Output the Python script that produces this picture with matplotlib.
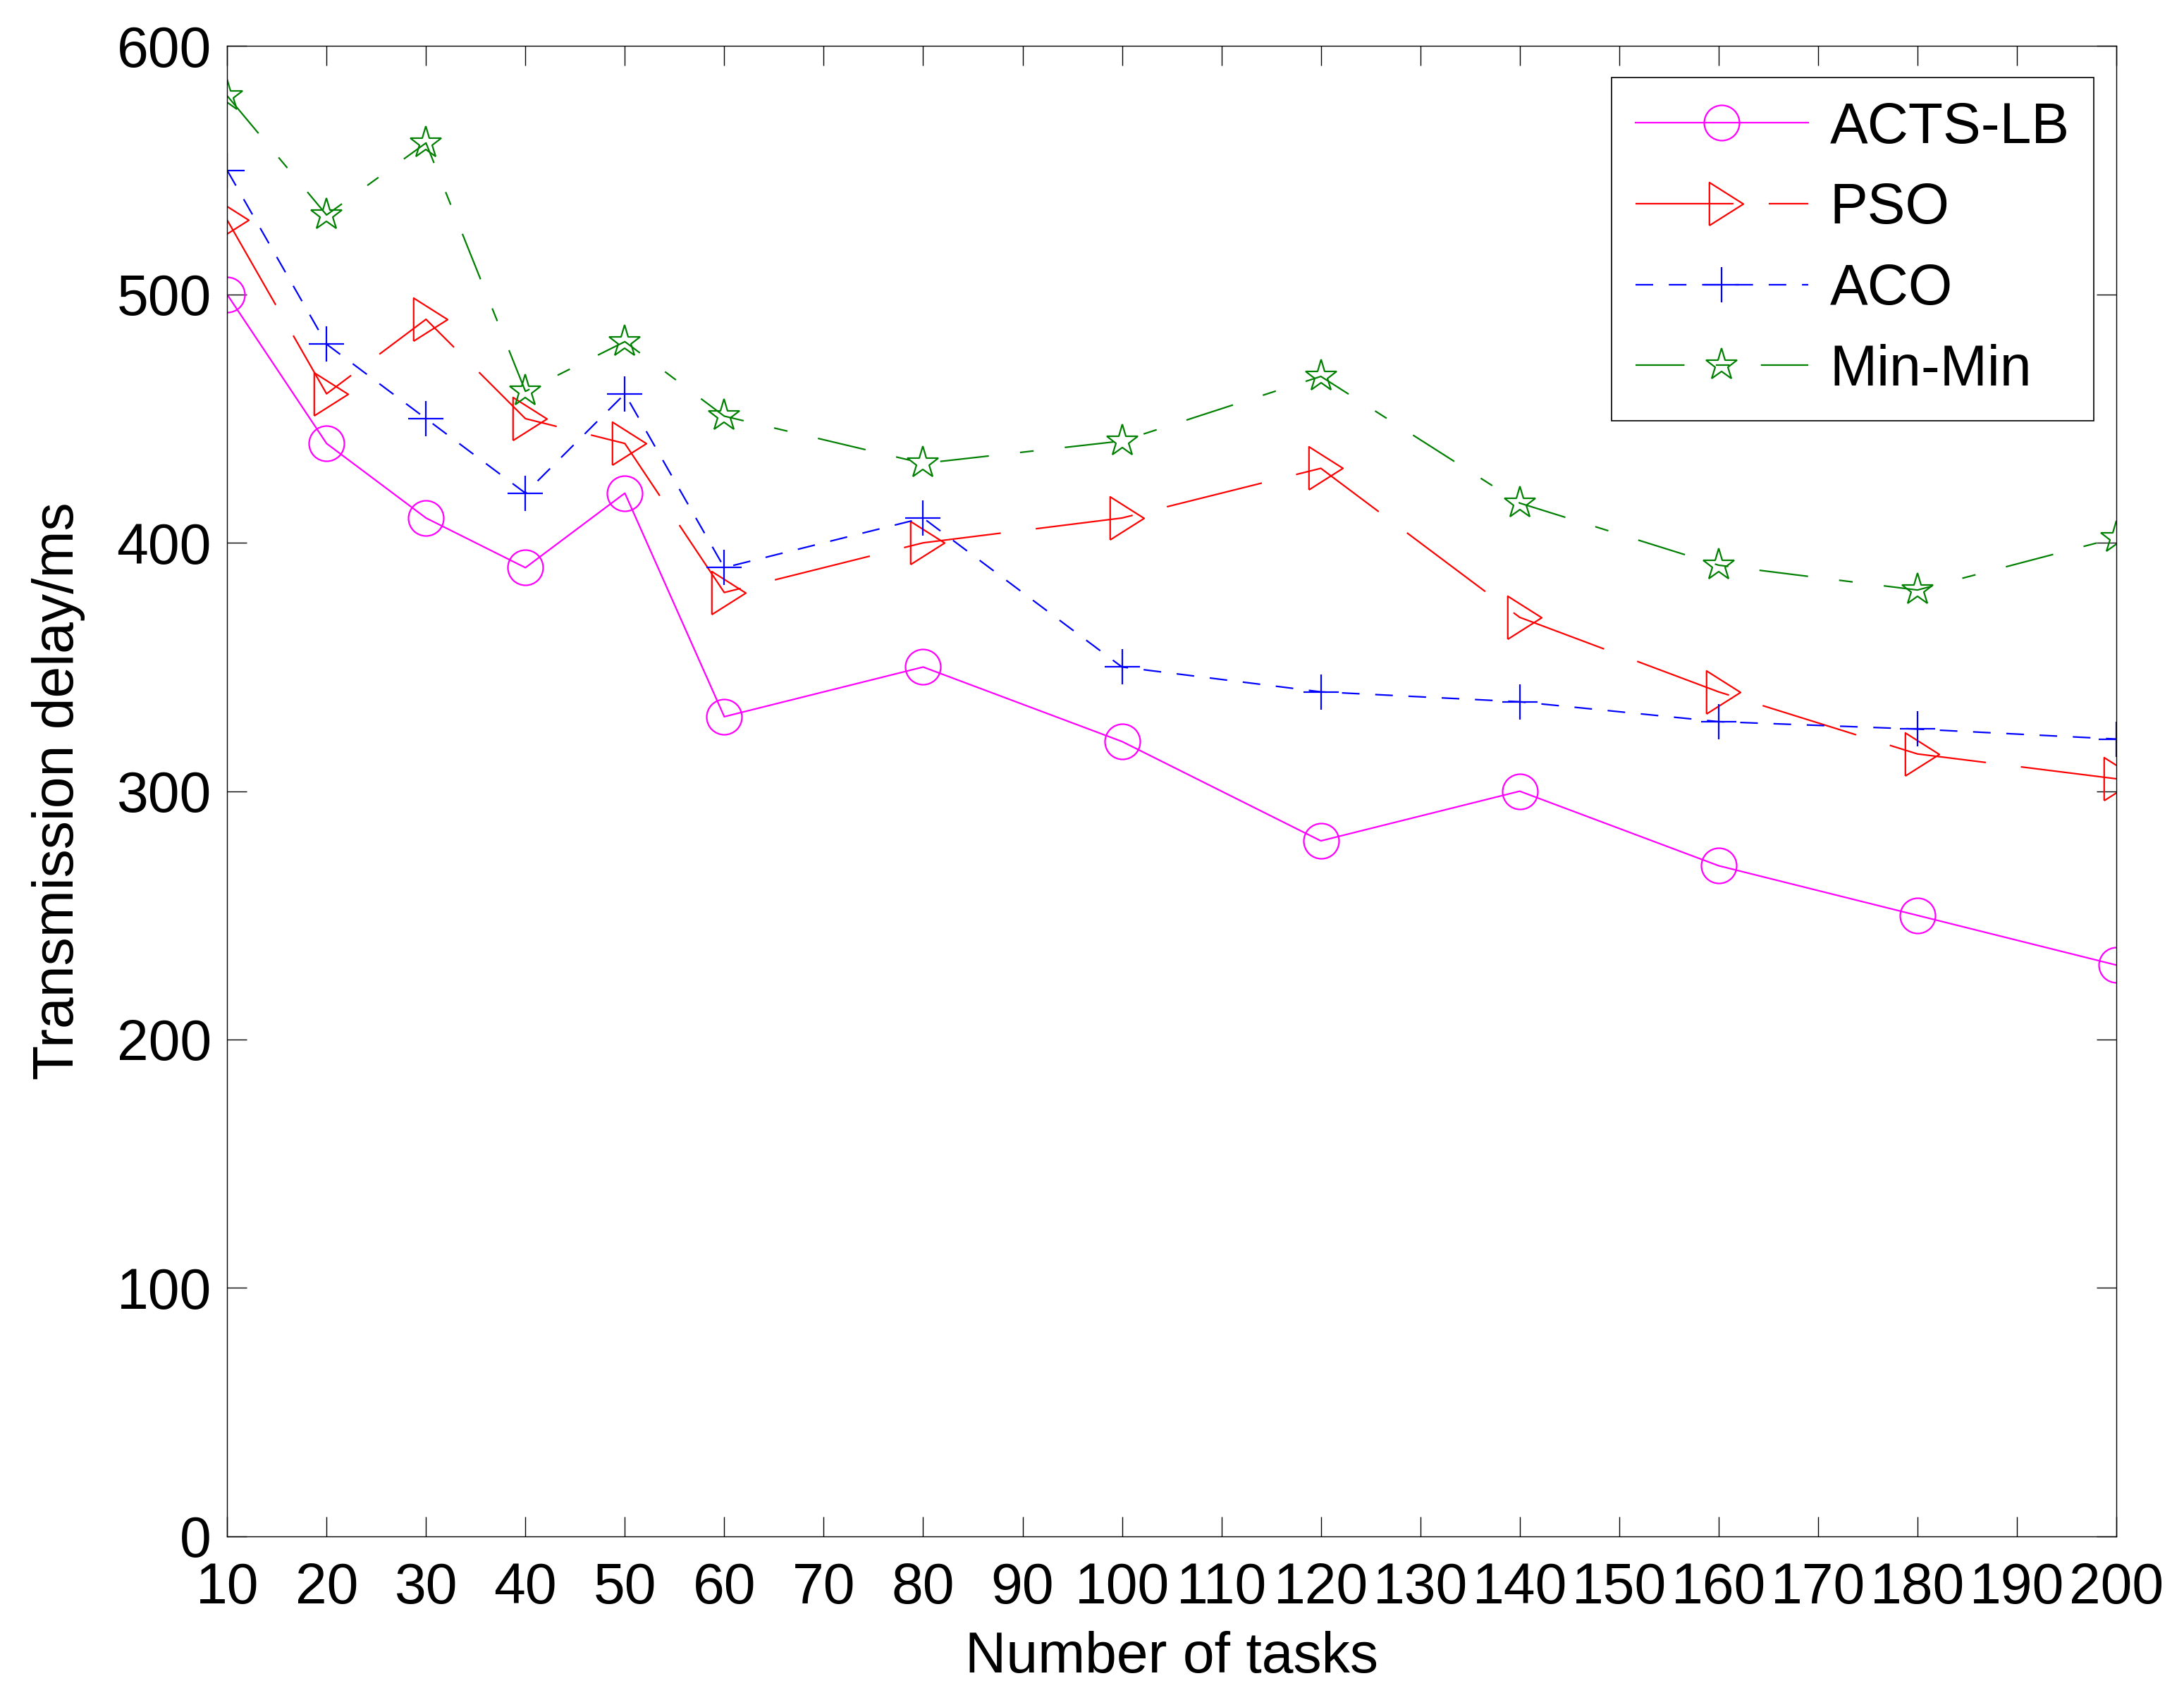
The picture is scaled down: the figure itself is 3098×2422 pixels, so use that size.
"""
Transmission delay vs number of tasks (ACTS-LB / PSO / ACO / Min-Min).
"""
import matplotlib
matplotlib.use('Agg')
import matplotlib.pyplot as plt
import numpy as np

# ── Data ──
tasks   = [10, 20, 30, 40, 50, 60, 80, 100, 120, 140, 160, 180, 200]
acts_lb = [500, 440, 410, 390, 420, 330, 350, 320, 280, 300, 270, 250, 230]
pso     = [530, 460, 490, 450, 440, 380, 400, 410, 430, 370, 340, 315, 305]
aco     = [550, 480, 450, 420, 460, 390, 410, 350, 340, 336, 328, 325, 321]
minmin  = [580, 532, 561, 461, 481, 451, 432, 441, 467, 416, 391, 381, 402]

x_ticks = list(range(10, 201, 10))
y_ticks = list(range(0, 601, 100))

plt.rcParams['font.family'] = ['Liberation Sans', 'DejaVu Sans']
plt.rcParams['lines.scale_dashes'] = False

FS = 29

# MATLAB-like right triangle (centroid at the data point)
tri_right = [(-0.58, -1.0), (1.0, 0.0), (-0.58, 1.0), (-0.58, -1.0)]

fig = plt.figure(figsize=(3098 / 200, 2422 / 200), dpi=200)
ax = fig.add_axes([0.104, 0.100, 0.865, 0.873])

ax.plot(tasks, acts_lb, color='#FF00FF', lw=0.8, ls='-',
        marker='o', ms=18, mfc='none', mec='#FF00FF', mew=0.8, label='ACTS-LB')
ax.plot(tasks, pso, color='#FF0000', lw=0.8, dashes=(50, 18),
        marker=tri_right, ms=22, mfc='none', mec='#FF0000', mew=0.8, label='PSO')
ax.plot(tasks, aco, color='#0000FF', lw=0.8, dashes=(9, 8),
        marker='+', ms=18, mec='#0000FF', mew=0.8, label='ACO')
ax.plot(tasks, minmin, color='#008000', lw=0.8, dashes=(25, 16, 7, 16),
        marker='*', ms=17, mfc='none', mec='#008000', mew=0.8, label='Min-Min')

ax.set_xlim(10, 200)
ax.set_ylim(0, 600)
ax.set_xticks(x_ticks)
ax.set_yticks(y_ticks)
ax.tick_params(direction='in', length=10, width=0.5, top=True, right=True,
               labelsize=FS)
ax.tick_params(axis='x', pad=13)
ax.tick_params(axis='y', pad=8)
for s in ax.spines.values():
    s.set_linewidth(0.5)

ax.set_xlabel('Number of tasks', fontsize=FS, labelpad=8)
ax.set_ylabel('Transmission delay/ms', fontsize=FS, labelpad=16)

leg = ax.legend(loc='upper right', bbox_to_anchor=(0.988, 0.979),
                fontsize=FS, handlelength=3.05, handletextpad=0.38,
                labelspacing=0.48, borderpad=0.42, borderaxespad=0,
                fancybox=False, framealpha=1, edgecolor='black')
leg.get_frame().set_linewidth(0.6)

fig.savefig('out.png', dpi=200)
